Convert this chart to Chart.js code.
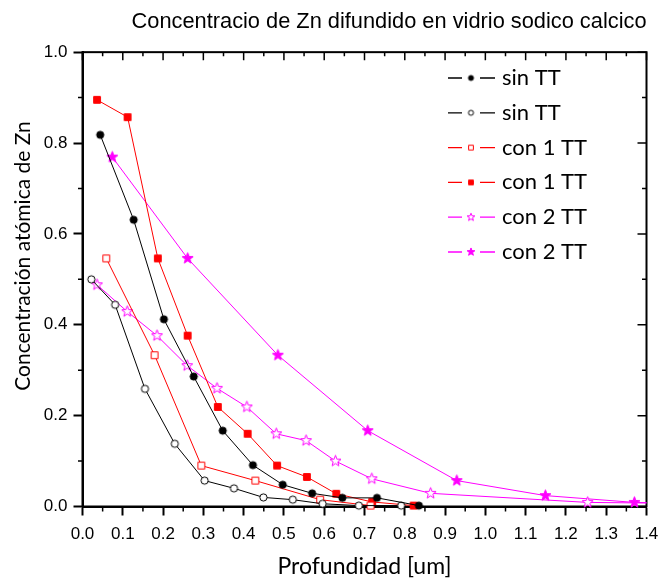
<!DOCTYPE html>
<html>
<head>
<meta charset="utf-8">
<script src="https://cdn.jsdelivr.net/npm/chart.js@4.4.0/dist/chart.umd.min.js"></script>
<style>
  html, body { margin: 0; padding: 0; background: #fff; }
</style>
</head>
<body>
<canvas id="chart" width="660" height="580"></canvas>
<script>
/* ===== data ===== */
var labels = ['sin TT', 'sin TT', 'con 1 TT', 'con 1 TT', 'con 2 TT', 'con 2 TT'];

// sin TT, filled circles
var xSin1 = [0.044, 0.127, 0.202, 0.276, 0.348, 0.423, 0.497, 0.570, 0.645, 0.731, 0.835];
var ySin1 = [0.818, 0.631, 0.412, 0.286, 0.167, 0.091, 0.048, 0.029, 0.019, 0.019, 0.002];
// sin TT, open circles
var xSin2 = [0.022, 0.081, 0.155, 0.229, 0.303, 0.376, 0.449, 0.522, 0.596, 0.686, 0.791];
var ySin2 = [0.500, 0.444, 0.259, 0.138, 0.057, 0.040, 0.020, 0.015, 0.006, 0.002, 0.002];
// con 1 TT, open squares
var xCon1a = [0.059, 0.179, 0.295, 0.429, 0.590, 0.715];
var yCon1a = [0.546, 0.333, 0.090, 0.057, 0.015, 0.002];
// con 1 TT, filled squares
var xCon1b = [0.036, 0.112, 0.187, 0.261, 0.336, 0.410, 0.483, 0.557, 0.630, 0.719, 0.822];
var yCon1b = [0.895, 0.857, 0.546, 0.376, 0.219, 0.160, 0.090, 0.065, 0.028, 0.010, 0.002];
// con 2 TT, open stars
var xCon2a = [0.036, 0.111, 0.185, 0.260, 0.334, 0.408, 0.481, 0.555, 0.628, 0.718, 0.864, 1.254, 1.48];
var yCon2a = [0.488, 0.429, 0.376, 0.310, 0.260, 0.219, 0.160, 0.145, 0.100, 0.061, 0.029, 0.009, 0.007];
// con 2 TT, filled stars
var xCon2b = [0.074, 0.261, 0.485, 0.708, 0.929, 1.149, 1.370, 1.48];
var yCon2b = [0.769, 0.546, 0.333, 0.167, 0.057, 0.024, 0.009, 0.007];

/* ===== markers ===== */
function makeMarker(shape, fill, stroke, r) {
    var size = Math.ceil(r * 2 + 3);
    var cv = document.createElement('canvas');
    cv.width = size; cv.height = size;
    var g = cv.getContext('2d');
    var c = size / 2;
    g.beginPath();
    if (shape === 'circle') {
        g.arc(c, c, r, 0, Math.PI * 2);
    } else if (shape === 'square') {
        g.rect(c - r, c - r, r * 2, r * 2);
    } else {
        for (var i = 0; i < 10; i++) {
            var rr = i % 2 ? r * 0.42 : r;
            var a = -Math.PI / 2 + i * Math.PI / 5;
            g.lineTo(c + rr * Math.cos(a), c + rr * Math.sin(a));
        }
        g.closePath();
    }
    g.fillStyle = fill;
    g.fill();
    g.lineWidth = 1;
    g.strokeStyle = stroke;
    g.stroke();
    return cv;
}

function pairs(xs, ys) {
    return xs.map(function(x, i) { return { x: x, y: ys[i] }; });
}

function series(label, xs, ys, color, shape, fill, r) {
    return {
        label: label,
        data: pairs(xs, ys),
        showLine: true,
        borderColor: color,
        borderWidth: 1,
        pointStyle: makeMarker(shape, fill, color, r),
        legendMarker: makeMarker(shape, fill, color, r * 0.7),
        pointRadius: r,
        clip: { left: false, top: false, right: 0, bottom: false }
    };
}

var datasets = [
    series(labels[0], xSin1, ySin1, '#000000', 'circle', '#000000', 3.6),
    series(labels[1], xSin2, ySin2, '#000000', 'circle', '#ffffff', 3.6),
    series(labels[2], xCon1a, yCon1a, '#ff0000', 'square', '#ffffff', 3.4),
    series(labels[3], xCon1b, yCon1b, '#ff0000', 'square', '#ff0000', 3.4),
    series(labels[4], xCon2a, yCon2a, '#ff00ff', 'star', '#ffffff', 5.8),
    series(labels[5], xCon2b, yCon2b, '#ff00ff', 'star', '#ff00ff', 5.8)
];

/* ===== frame, minor ticks, legend, y title ===== */
var frame = {
    id: 'frame',
    beforeDatasetsDraw: function(c) {
        var a = c.chartArea, sx = c.scales.x, sy = c.scales.y, ctx = c.ctx;
        ctx.save();
        ctx.strokeStyle = '#000';
        ctx.lineWidth = 2;
        ctx.strokeRect(a.left, a.top, a.right - a.left, a.bottom - a.top);
        ctx.lineWidth = 1.5;
        ctx.beginPath();
        for (var i = 0; i <= 28; i++) {
            var px = sx.getPixelForValue(i * 0.05);
            ctx.moveTo(px, a.top);
            ctx.lineTo(px, a.top + (i % 2 ? 4 : 8));
            if (i % 2) {
                ctx.moveTo(px, a.bottom);
                ctx.lineTo(px, a.bottom + 5);
            }
        }
        for (var j = 0; j <= 10; j++) {
            var py = sy.getPixelForValue(j * 0.1);
            ctx.moveTo(a.right, py);
            ctx.lineTo(a.right - (j % 2 ? 4.5 : 9), py);
            if (j % 2) {
                ctx.moveTo(a.left, py);
                ctx.lineTo(a.left - 4.5, py);
            }
        }
        ctx.stroke();
        ctx.restore();
    },
    afterDraw: function(c) {
        var ctx = c.ctx;
        ctx.save();
        // legend
        ctx.font = '22px Lato';
        ctx.textBaseline = 'middle';
        ctx.fillStyle = '#000';
        c.data.datasets.forEach(function(ds, i) {
            var yy = 78 + i * 34.8;
            ctx.strokeStyle = ds.borderColor;
            ctx.lineWidth = 1.3;
            ctx.beginPath();
            ctx.moveTo(448, yy); ctx.lineTo(462, yy);
            ctx.moveTo(480, yy); ctx.lineTo(495, yy);
            ctx.stroke();
            var m = ds.legendMarker;
            ctx.drawImage(m, 471 - m.width / 2, yy - m.height / 2);
            ctx.fillText(ds.label, 502, yy);
        });
        // y axis title
        ctx.translate(23, 256);
        ctx.rotate(-Math.PI / 2);
        ctx.textAlign = 'center';
        ctx.font = '21px Lato';
        ctx.fillText('Concentración atómica de Zn', 0, 0);
        ctx.restore();
    }
};

/* ===== chart ===== */
var ctx = document.getElementById('chart');
var chart = new Chart(ctx, {
    type: 'scatter',
    data: { datasets: datasets },
    plugins: [frame],
    options: {
        responsive: false,
        animation: false,
        layout: { padding: { left: 0, right: 13.5, top: 0, bottom: 0 } },
        plugins: {
            legend: { display: false },
            tooltip: { enabled: false },
            title: {
                display: true,
                text: 'Concentracio de Zn difundido en vidrio sodico calcico',
                align: 'end',
                color: '#000',
                font: { family: 'Liberation Sans', size: 21.8, weight: 'normal' },
                padding: { top: 9, bottom: 17 }
            }
        },
        scales: {
            x: {
                type: 'linear',
                min: 0,
                max: 1.4,
                ticks: {
                    stepSize: 0.1,
                    autoSkip: false,
                    maxRotation: 0,
                    padding: 9,
                    color: '#000',
                    font: { family: 'Liberation Sans', size: 17 },
                    callback: function(v) { return v.toFixed(1); }
                },
                grid: { drawOnChartArea: false, color: '#000', tickLength: 9, tickWidth: 2 },
                border: { color: '#000', width: 2 },
                title: {
                    display: true,
                    text: 'Profundidad [um]',
                    color: '#000',
                    font: { family: 'Lato', size: 23 },
                    padding: 0
                },
                afterFit: function(s) {
                    s.height = 73.5;
                    s.paddingLeft = 0;
                    s.paddingRight = 0;
                }
            },
            y: {
                min: 0,
                max: 1.0,
                ticks: {
                    stepSize: 0.2,
                    padding: 6,
                    color: '#000',
                    font: { family: 'Liberation Sans', size: 17 },
                    callback: function(v) { return v.toFixed(1); }
                },
                grid: { drawOnChartArea: false, color: '#000', tickLength: 9, tickWidth: 2 },
                border: { color: '#000', width: 2 },
                afterFit: function(s) { s.width = 82.5; }
            }
        }
    }
});
</script>
</body>
</html>
